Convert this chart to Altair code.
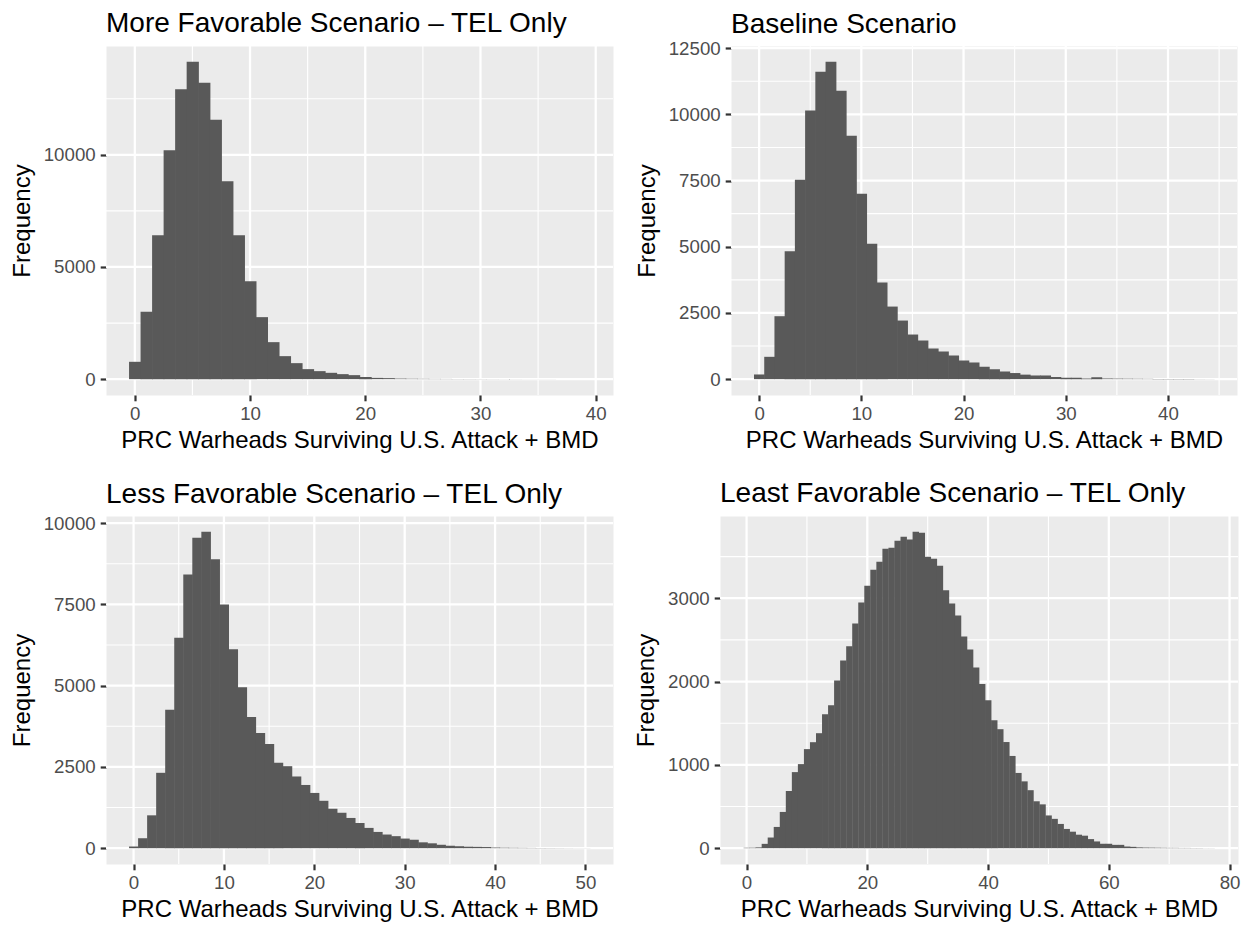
import altair as alt
import pandas as pd

FONT = "Liberation Sans"

titles = [
    "More Favorable Scenario \u2013 TEL Only",
    "Baseline Scenario",
    "Less Favorable Scenario \u2013 TEL Only",
    "Least Favorable Scenario \u2013 TEL Only",
]
x_title = "PRC Warheads Surviving U.S. Attack + BMD"
y_title = "Frequency"

# histogram counts, bins of width 1 centred on 0, 1, 2, ...
counts_more = [773, 3001, 6419, 10208, 12927, 14146, 13210, 11560, 8826, 6419,
               4369, 2764, 1649, 1025, 713, 446, 357, 282, 223, 178,
               100, 55, 45, 25, 18, 14, 11, 9, 7, 6,
               5, 4, 3, 3, 2, 2, 2, 1, 1, 1]
counts_base = [176, 843, 2377, 4829, 7533, 10148, 11607, 11984, 10890, 9193,
               7004, 5118, 3647, 2741, 2213, 1685, 1459, 1157, 1044, 893,
               704, 629, 465, 370, 290, 230, 170, 138, 138, 80,
               55, 50, 25, 70, 25, 20, 17, 14, 11, 9,
               7, 6, 5, 4, 3]
counts_less = [51, 306, 1011, 2319, 4259, 6476, 8417, 9551, 9734, 8887,
               7497, 6118, 4954, 4035, 3544, 3207, 2625, 2523, 2206, 1945,
               1700, 1458, 1213, 1090, 930, 778, 624, 500, 420, 370,
               296, 260, 180, 150, 105, 75, 60, 45, 40, 35,
               20, 15, 12, 10, 8, 6, 5, 4, 3, 2, 2]
counts_least = [5, 6, 10, 52, 128, 255, 435, 686, 913, 1009,
                1189, 1272, 1380, 1607, 1715, 2014, 2254, 2425, 2696, 2948,
                3151, 3343, 3438, 3594, 3606, 3690, 3737, 3706, 3797, 3785,
                3498, 3474, 3390, 3095, 2936, 2792, 2541, 2385, 2170, 1970,
                1775, 1536, 1428, 1274, 1107, 903, 802, 696, 563, 526,
                393, 352, 291, 231, 198, 162, 150, 109, 81, 53,
                53, 40, 40, 20, 16, 10, 8, 7, 6, 5,
                4, 4, 3, 3, 2, 2, 1, 1]

x_major = [[0, 10, 20, 30, 40], [0, 10, 20, 30, 40], [0, 10, 20, 30, 40, 50], [0, 20, 40, 60, 80]]
x_minor = [[5, 15, 25, 35], [5, 15, 25, 35, 45], [5, 15, 25, 35, 45], [10, 30, 50, 70]]
y_major = [[0, 5000, 10000], [0, 2500, 5000, 7500, 10000, 12500],
           [0, 2500, 5000, 7500, 10000], [0, 1000, 2000, 3000]]
y_minor = [[2500, 7500, 12500], [1250, 3750, 6250, 8750, 11250],
           [1250, 3750, 6250, 8750], [500, 1500, 2500, 3500]]

GRID = "white"
BAR = "#595959"
LABEL_FS = 18.7
TITLE_OFFSET = 7


def axis_common(**kw):
    return alt.Axis(
        domain=False, grid=False,
        labelFont=FONT, labelFontSize=LABEL_FS, labelColor="#4D4D4D",
        labelFlush=False,
        tickColor="#333333", tickWidth=2.2, tickSize=5.8,
        titleFont=FONT, titleFontSize=24, titleFontWeight="normal", titleColor="black",
        **kw,
    )


def panel(counts, title, xmaj, xmin, ymaj, ymin, w, h):
    n = len(counts)
    df = pd.DataFrame({"k": list(range(n)), "count": counts})
    lo, hi = -0.5, n - 0.5
    ex = 0.05 * (hi - lo)
    ymax = max(counts)
    ydom = [-0.05 * ymax, 1.05 * ymax]
    xs = alt.Scale(domain=[lo - ex, hi + ex], nice=False, zero=False)
    ys = alt.Scale(domain=ydom, nice=False, zero=False)
    xax = axis_common(values=xmaj, title=x_title, labelPadding=4, titlePadding=5)
    yax = axis_common(values=ymaj, format="d", title=y_title, labelPadding=5, titlePadding=9)

    # keep the title at a fixed distance from the plot even when the top tick label pokes above it
    dist = h * (ydom[1] - max(ymaj)) / (ydom[1] - ydom[0])
    overhang = max(0.0, LABEL_FS / 2 - dist)
    offset = max(0.0, TITLE_OFFSET - overhang)

    vmin = alt.Chart(pd.DataFrame({"v": xmin})).mark_rule(color=GRID, strokeWidth=1.13).encode(
        x=alt.X("v:Q", scale=xs, axis=xax))
    hmin = alt.Chart(pd.DataFrame({"v": ymin})).mark_rule(color=GRID, strokeWidth=1.13).encode(
        y=alt.Y("v:Q", scale=ys, axis=yax))
    vmaj = alt.Chart(pd.DataFrame({"v": xmaj})).mark_rule(color=GRID, strokeWidth=2.26).encode(
        x=alt.X("v:Q", scale=xs, axis=xax))
    hmaj = alt.Chart(pd.DataFrame({"v": ymaj})).mark_rule(color=GRID, strokeWidth=2.26).encode(
        y=alt.Y("v:Q", scale=ys, axis=yax))

    bars = alt.Chart(df).transform_calculate(
        lo="datum.k - 0.5", hi="datum.k + 0.56", zero="0"
    ).mark_rect(color=BAR, strokeWidth=0).encode(
        x=alt.X("lo:Q", scale=xs, axis=xax),
        x2="hi:Q",
        y=alt.Y("count:Q", scale=ys, axis=yax),
        y2="zero:Q",
    )
    return alt.layer(vmin, hmin, vmaj, hmaj, bars).properties(
        width=w, height=h,
        title=alt.TitleParams(title, anchor="start", frame="group", font=FONT, fontSize=28,
                              fontWeight="normal", color="black", offset=offset),
    )


p1 = panel(counts_more, titles[0], x_major[0], x_minor[0], y_major[0], y_minor[0], 507, 349)
p2 = panel(counts_base, titles[1], x_major[1], x_minor[1], y_major[1], y_minor[1], 506, 349)
p3 = panel(counts_less, titles[2], x_major[2], x_minor[2], y_major[2], y_minor[2], 507, 348)
p4 = panel(counts_least, titles[3], x_major[3], x_minor[3], y_major[3], y_minor[3], 518, 348)

row1 = alt.hconcat(p1, p2, spacing=19)
row2 = alt.hconcat(p3, p4, spacing=19)

chart = alt.vconcat(row1, row2, spacing=26).properties(
    padding={"left": 1, "top": 1, "right": 0, "bottom": 0}
).configure_view(fill="#EBEBEB", stroke="transparent")

chart.save("out.html", embed_options={"renderer": "svg", "actions": False})
